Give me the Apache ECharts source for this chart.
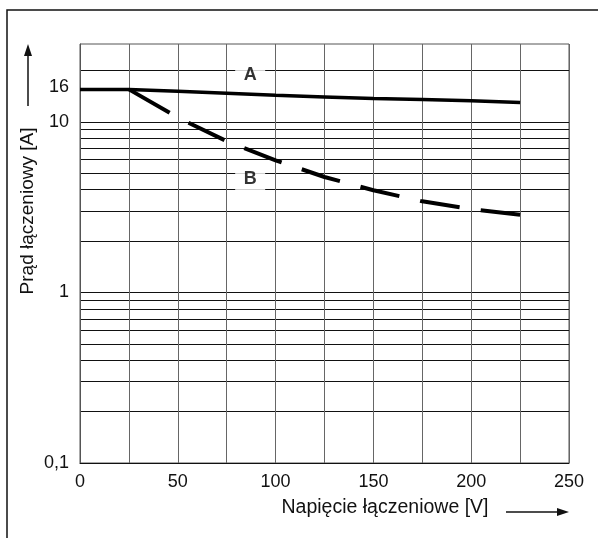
<!DOCTYPE html>
<html>
<head>
<meta charset="utf-8">
<script src="https://cdn.jsdelivr.net/npm/echarts@6/dist/echarts.min.js"></script>
<style>
html,body{margin:0;padding:0;background:#fff;}
#chart{width:598px;height:538px;}
</style>
</head>
<body>
<div id="chart"></div>
<script>
// ---- data ----
var voltage = [0, 25, 50, 75, 100, 125, 150, 175, 200, 225];
var currentA = [15.5, 15.5, 15.1, 14.7, 14.3, 14.0, 13.7, 13.5, 13.3, 13.0];
var voltageB = [25, 50, 75, 100, 125, 150, 175, 200, 225];
var currentB = [15.5, 10.6, 7.7, 5.95, 4.75, 3.97, 3.42, 3.08, 2.85];
var yGridValues = [0.1, 0.2, 0.3, 0.4, 0.5, 0.6, 0.7, 0.8, 0.9, 1, 2, 3, 4, 5, 6, 7, 8, 9, 10, 20];
var yLabelValues = [0.1, 1, 10, 16];
var curveLabels = [{name: 'A', x: 87, y: 18.7}, {name: 'B', x: 87, y: 4.61}];
var xName = 'Napięcie łączeniowe [V]';
var yName = 'Prąd łączeniowy [A]';

var chart = echarts.init(document.getElementById('chart'), null, {renderer: 'canvas'});
var font = 'Liberation Sans, Arial, sans-serif';

var option = {
  backgroundColor: '#fff',
  animation: false,
  grid: {left: 80, right: 29, top: 44, bottom: 75, show: true, borderColor: '#555', borderWidth: 1},
  xAxis: {
    type: 'value', min: 0, max: 250, interval: 25,
    axisLine: {show: true, lineStyle: {color: '#111', width: 1}},
    axisTick: {show: false},
    axisLabel: {
      margin: 10, color: '#111', fontSize: 18, fontFamily: font,
      formatter: function (v) { return v % 50 === 0 ? String(v) : ''; }
    },
    splitLine: {show: true, lineStyle: {color: '#666', width: 1}}
  },
  yAxis: {
    type: 'log', logBase: 10, min: 0.1, max: 28.6,
    axisLine: {show: true, lineStyle: {color: '#555', width: 1}},
    axisTick: {show: false, customValues: yGridValues},
    axisLabel: {
      margin: 11, color: '#111', fontSize: 18, fontFamily: font,
      customValues: yLabelValues,
      formatter: function (v) { return String(+v.toPrecision(3)).replace('.', ','); }
    },
    splitLine: {show: true, lineStyle: {color: '#111', width: 1}}
  },
  series: [
    {
      name: 'A', type: 'line', symbol: 'none',
      data: voltage.map(function (v, i) { return [v, currentA[i]]; }),
      lineStyle: {color: '#000', width: 3.5, cap: 'butt'}, z: 5
    },
    {
      name: 'B', type: 'line', symbol: 'none',
      data: voltageB.map(function (v, i) { return [v, currentB[i]]; }),
      lineStyle: {color: '#000', width: 4, cap: 'butt',
        type: [47, 21.3, 40, 21.3, 40, 21.3, 40, 21.3, 40, 21.3, 40, 21.3, 40, 21.3]},
      z: 5
    },
    {
      name: 'labels', type: 'scatter', symbolSize: 0, z: 6,
      data: curveLabels.map(function (d) { return {name: d.name, value: [d.x, d.y]}; }),
      label: {
        show: true, position: 'inside', formatter: '{b}',
        color: '#000', fontSize: 18, fontWeight: 'bold', fontFamily: font,
        backgroundColor: '#fff', padding: [2, 8.5, 2, 8.5]
      }
    }
  ],
  graphic: [
    {type: 'rect', shape: {x: 7, y: 10, width: 700, height: 700}, style: {fill: null, stroke: '#111', lineWidth: 1.5}, z: -10, silent: true},
    {type: 'text', x: 28, y: 211, rotation: Math.PI / 2,
      style: {text: yName, fill: '#111', font: '19px ' + font, align: 'center', verticalAlign: 'middle'}},
    {type: 'line', shape: {x1: 28, y1: 106, x2: 28, y2: 52}, style: {stroke: '#111', lineWidth: 1.5}},
    {type: 'polygon', shape: {points: [[28, 44], [24, 56], [32, 56]]}, style: {fill: '#111'}},
    {type: 'text', x: 385, y: 508,
      style: {text: xName, fill: '#111', font: '19.5px ' + font, align: 'center', verticalAlign: 'middle'}},
    {type: 'line', shape: {x1: 506, y1: 512, x2: 560, y2: 512}, style: {stroke: '#111', lineWidth: 1.5}},
    {type: 'polygon', shape: {points: [[569, 512], [557, 508], [557, 516]]}, style: {fill: '#111'}}
  ]
};
chart.setOption(option);
</script>
</body>
</html>
